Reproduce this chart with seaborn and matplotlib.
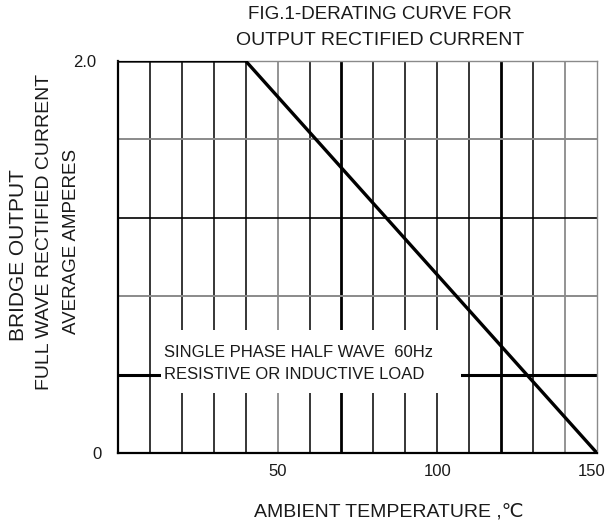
import matplotlib
matplotlib.use("Agg")
import matplotlib.pyplot as plt
import matplotlib.patches as mpatches
import matplotlib.transforms as mtransforms
import seaborn as sns
import pandas as pd

# derating curve
temperature = [0, 40, 150]
current = [2.0, 2.0, 0.0]

x_ticks = [50, 100, 150]
y_ticks = [0, 2.0]
y_tick_labels = ["0", "2.0"]

grid_x_black = [10, 20, 30, 40, 60, 80, 90, 100, 110, 130]
grid_x_thick = [70, 120]
grid_x_gray = [50, 140]
grid_y_black = [0.4, 1.2]
grid_y_gray = [0.8, 1.6]

sns.set_theme(style="white")
plt.rcParams["font.family"] = ["Liberation Sans", "DejaVu Sans"]
txt = "#1a1a1a"

fig = plt.figure(figsize=(6.07, 5.22), dpi=100)
ax = fig.add_axes([0.1944, 0.1322, 0.789, 0.751])

for x in grid_x_black:
    ax.axvline(x, color="black", lw=1.1, zorder=1)
for x in grid_x_thick:
    ax.axvline(x, color="black", lw=2.0, zorder=1)
for x in grid_x_gray:
    ax.axvline(x, color="#8a8a8a", lw=1.3, zorder=1)
ax.axhline(grid_y_black[0], color="black", lw=2.2, zorder=1)
ax.axhline(grid_y_black[1], color="black", lw=1.2, zorder=1)
for y in grid_y_gray:
    ax.axhline(y, color="#8a8a8a", lw=1.4, zorder=1)

# white panel behind the note
ax.add_patch(mpatches.Rectangle((13.5, 0.306), 94, 0.322, facecolor="white",
                                edgecolor="none", zorder=2))
ax.text(14.5, 0.513, "SINGLE PHASE HALF WAVE  60Hz", fontsize=12, color=txt,
        va="center", ha="left", zorder=4)
ax.text(14.5, 0.398, "RESISTIVE OR INDUCTIVE LOAD", fontsize=12, color=txt,
        va="center", ha="left", zorder=4)

df = pd.DataFrame({"temp": temperature, "amps": current})
sns.lineplot(data=df, x="temp", y="amps", ax=ax, color="black", lw=2.4,
             zorder=3)

ax.set_xlim(0, 150)
ax.set_ylim(0, 2.0)
ax.set_xticks(x_ticks)
ax.set_yticks(y_ticks)
ax.set_yticklabels(y_tick_labels)
ax.tick_params(axis="both", length=0, labelsize=12, colors=txt)
ax.tick_params(axis="x", pad=8)
ax.tick_params(axis="y", pad=16)
ax.set_xlabel("")
ax.set_ylabel("")


def nudge(label, dx_px):
    label.set_transform(label.get_transform() +
                        mtransforms.ScaledTranslation(dx_px / 100, 0,
                                                      fig.dpi_scale_trans))


# small label offsets as in the original scan
nudge(ax.get_xticklabels()[-1], -5)
nudge(ax.get_yticklabels()[0], 6)

for s in ["left", "bottom"]:
    ax.spines[s].set_color("black")
    ax.spines[s].set_linewidth(1.6)
for s in ["top", "right"]:
    ax.spines[s].set_color("#8a8a8a")
    ax.spines[s].set_linewidth(1.0)

fig.text(0.626, 0.973, "FIG.1-DERATING CURVE FOR", ha="center", va="center",
         fontsize=13.5, color=txt)
fig.text(0.626, 0.923, "OUTPUT RECTIFIED CURRENT", ha="center", va="center",
         fontsize=14, color=txt)
fig.text(0.641, 0.019, "AMBIENT TEMPERATURE ,\u2103", ha="center", va="center",
         fontsize=14, color=txt)

fig.text(0.030, 0.512, "BRIDGE OUTPUT", rotation=90, ha="center", va="center",
         fontsize=15, color=txt)
fig.text(0.0725, 0.556, "FULL WAVE RECTIFIED CURRENT", rotation=90,
         ha="center", va="center", fontsize=14, color=txt)
fig.text(0.1186, 0.538, "AVERAGE AMPERES", rotation=90, ha="center",
         va="center", fontsize=13.5, color=txt)

fig.savefig("out.png", dpi=100)
